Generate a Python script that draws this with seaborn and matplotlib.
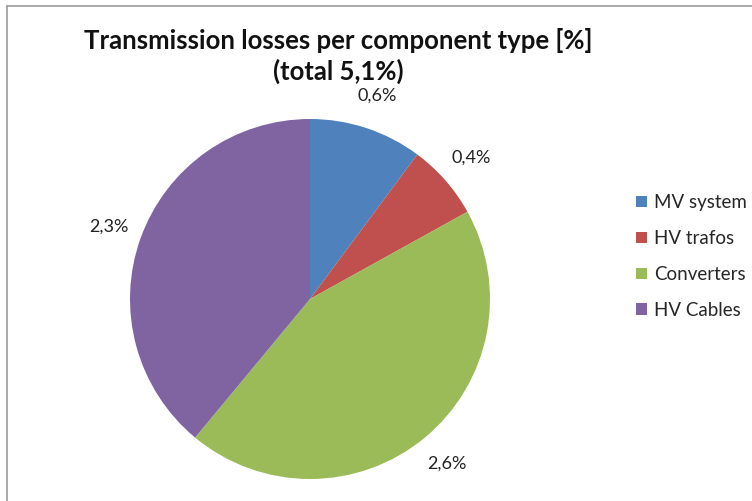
import matplotlib
matplotlib.use("Agg")
import matplotlib.pyplot as plt
from matplotlib.lines import Line2D
import seaborn as sns

# Loss shares per component type (percentage points)
components = ["MV system", "HV trafos", "Converters", "HV Cables"]
losses = [0.6, 0.4, 2.6, 2.3]
value_labels = ["0,6%", "0,4%", "2,6%", "2,3%"]
title_text = "Transmission losses per component type [%]\n(total 5,1%)"

sns.set_theme(style="white")
plt.rcParams["font.family"] = ["Lato", "DejaVu Sans"]

colors = sns.color_palette(["#4F81BD", "#C0504D", "#9BBB59", "#8064A2"])

W, H = 752, 501
fig = plt.figure(figsize=(W / 100, H / 100), dpi=100)
fig.patch.set_facecolor("white")

# pie axes: centre at (310, 299) px, radius 180 px
cx, cy, r = 310, 299, 180
ax = fig.add_axes([(cx - r) / W, (H - cy - r) / H, 2 * r / W, 2 * r / H])
wedges, texts = ax.pie(
    losses,
    labels=value_labels,
    colors=colors,
    startangle=90,
    counterclock=False,
    labeldistance=1.19,
    wedgeprops=dict(linewidth=0),
    textprops=dict(fontsize=13, color="#222222"),
)
for t in texts:
    t.set_horizontalalignment("center")
    t.set_verticalalignment("center")
ax.set_xlim(-1, 1)
ax.set_ylim(-1, 1)
ax.set_aspect("equal")
ax.axis("off")

fig.text(338 / W, 1 - 56 / H, title_text, ha="center", va="center",
         fontsize=18.5, fontweight="bold", color="#111111", linespacing=1.3)

leg = fig.legend(
    wedges, components,
    loc="upper left", bbox_to_anchor=(627 / W, 1 - 185 / H),
    frameon=False, fontsize=13.5,
    handlelength=0.55, handleheight=0.55, handletextpad=0.4,
    labelspacing=1.0, borderpad=0,
)

# thin frame edges along the top and left
fig.add_artist(Line2D([6.5 / W, 1], [1 - 5.5 / H, 1 - 5.5 / H],
                      transform=fig.transFigure, color="#999999", linewidth=1.2))
fig.add_artist(Line2D([6.5 / W, 6.5 / W], [0, 1 - 5.5 / H],
                      transform=fig.transFigure, color="#999999", linewidth=1.2))

fig.savefig("out.png", dpi=100, facecolor="white")
